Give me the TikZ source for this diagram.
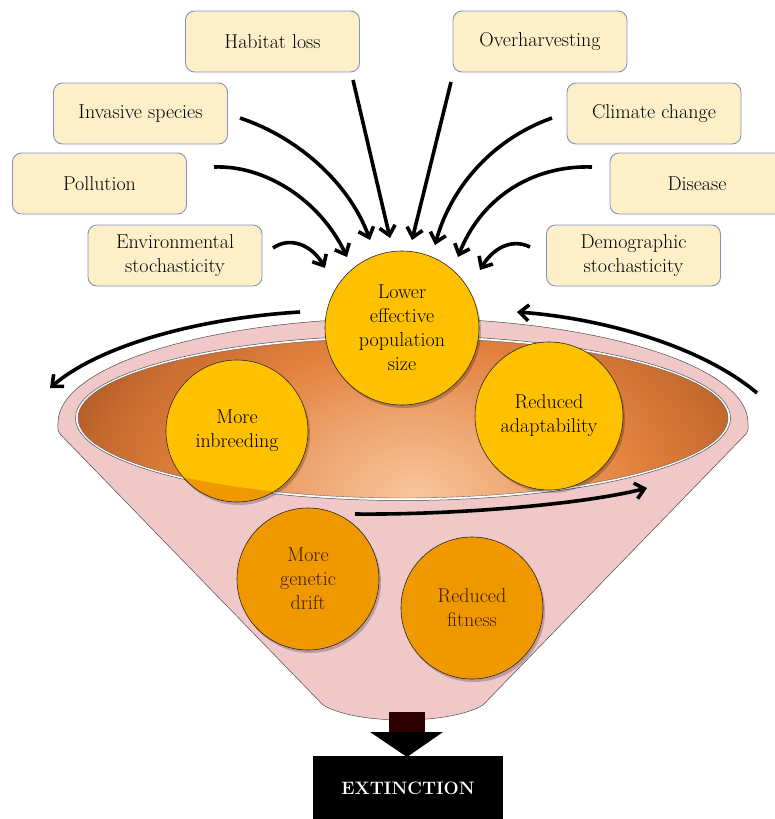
\documentclass[tikz,border=0pt]{standalone}
\usetikzlibrary{arrows.meta}
\definecolor{boxfill}{HTML}{FDF0C9}
\definecolor{boxline}{HTML}{8193BC}
\definecolor{cyellow}{HTML}{FFC000}
\definecolor{corange}{HTML}{F09800}
\definecolor{pinkf}{HTML}{F1C8C8}
\definecolor{peach}{HTML}{F8C59C}
\definecolor{orng}{HTML}{E3823F}
\definecolor{brwn}{HTML}{9E4C1A}
\definecolor{darktxt}{HTML}{3A1C00}
\definecolor{stemc}{HTML}{2E0000}
\pgfdeclareradialshading{bowl}{\pgfpoint{0bp}{0bp}}{color(0bp)=(peach); color(8bp)=(peach!50!orng); color(15bp)=(orng); color(22bp)=(orng!55!brwn); color(28bp)=(brwn); color(50bp)=(brwn)}
\newcommand\mainfs{\fontsize{20}{23.5}\selectfont}
\newcommand\circfs{\fontsize{20}{24}\selectfont}
\tikzset{
  cause/.style={draw=boxline, fill=boxfill, line width=0.9pt, rounded corners=9pt,
    minimum width=174pt, minimum height=61pt, align=center, font=\mainfs, inner sep=2pt},
  ring/.style={circle, draw=black!85, line width=0.6pt, inner sep=0pt, align=center, font=\circfs},
  arr/.style={line width=3.6pt, -{Straight Barb[length=9pt, width=16pt]}},
  shad/.style={fill=black, opacity=0.22},
}
\begin{document}
\begin{tikzpicture}[x=1pt, y=-1pt]
\useasboundingbox (0,0) rectangle (775,819);

% cause boxes
\node[cause] (hab) at (272.5,41.5) {Habitat loss};
\node[cause] (ovh) at (540,41.5) {Overharvesting};
\node[cause] (inv) at (140.5,113.5) {Invasive species};
\node[cause] (cli) at (654,113.5) {Climate change};
\node[cause] (pol) at (99.5,183.5) {Pollution};
\node[cause] (dis) at (697,183.5) {Disease};
\node[cause] (env) at (175,255.5) {Environmental\\stochasticity};
\node[cause] (dem) at (633.5,255.5) {Demographic\\stochasticity};

% funnel body
\draw[fill=pinkf, draw=black!70, line width=0.5pt]
  (323,705) -- (60,434) .. controls (57,430) and (58,426) .. (58,423)
  arc[start angle=180, end angle=360, x radius=345, y radius=105]
  .. controls (748,426) and (749,430) .. (746,434) -- (483,705)
  .. controls (450,725) and (356,725) .. (323,705) -- cycle;

% inner bowl
\draw[black!70, line width=0.5pt, fill=white] (403,418) ellipse[x radius=327.5, y radius=82.5];
\begin{scope}
  \clip (403,418) ellipse[x radius=325, y radius=80];
  \shade[shading=bowl] (45,245) rectangle (785,745);
\end{scope}
\draw[black!60, line width=0.4pt] (403,418) ellipse[x radius=325, y radius=80];

% circles
\fill[shad] (239,434) circle[radius=71pt];
\fill[corange] (237,431) circle[radius=71pt];
\begin{scope}
  \clip (403,418) ellipse[x radius=325, y radius=80];
  \fill[cyellow] (237,431) circle[radius=71pt];
\end{scope}
\node[ring, minimum size=142pt] (inb) at (237,431) {More\\inbreeding};

\fill[shad] (551,419) circle[radius=74pt];
\node[ring, fill=cyellow, minimum size=148pt] (ada) at (549,416) {Reduced\\adaptability};

\fill[shad] (310,582) circle[radius=71pt];
\node[ring, fill=corange, text=darktxt, minimum size=142pt] (dri) at (308,579) {More\\genetic\\drift};

\fill[shad] (474,611) circle[radius=71pt];
\node[ring, fill=corange, text=darktxt, minimum size=142pt] (fit) at (472,608) {Reduced\\fitness};

\fill[shad] (404,331) circle[radius=77pt];
\node[ring, fill=cyellow, minimum size=154pt] (ne) at (402,328) {Lower\\effective\\population\\size};

% cycle arrows around the rim
\coordinate (c1s) at (300,312); \coordinate (c1e) at (50,388);
\coordinate (c2s) at (757,393); \coordinate (c2e) at (517,312);
\coordinate (c3s) at (355,514); \coordinate (c3e) at (647,488);
\draw[arr] (c1s) .. controls (200,318) and (100,345) .. (c1e);
\draw[arr] (c2s) .. controls (700,345) and (600,318) .. (c2e);
\draw[arr] (c3s) .. controls (450,515) and (580,505) .. (c3e);

% arrows from causes
\coordinate (hab1) at (353,80);  \coordinate (hab2) at (390,238);
\coordinate (ovh1) at (451,82);  \coordinate (ovh2) at (412,240);
\coordinate (inv1) at (240,118); \coordinate (inv2) at (370,240);
\coordinate (pol1) at (214,167); \coordinate (pol2) at (347,257);
\coordinate (env1) at (273,248); \coordinate (env2) at (325,268);
\coordinate (cli1) at (552,118); \coordinate (cli2) at (435,245);
\coordinate (dis1) at (592,167); \coordinate (dis2) at (458,257);
\coordinate (dem1) at (530,247); \coordinate (dem2) at (480,270);
\draw[arr] (hab1) -- (hab2);
\draw[arr] (ovh1) -- (ovh2);
\draw[arr] (inv1) .. controls (300,138) and (350,185) .. (inv2);
\draw[arr] (pol1) .. controls (265,165) and (320,200) .. (pol2);
\draw[arr] (env1) .. controls (290,236) and (312,245) .. (env2);
\draw[arr] (cli1) .. controls (490,140) and (450,190) .. (cli2);
\draw[arr] (dis1) .. controls (530,165) and (480,200) .. (dis2);
\draw[arr] (dem1) .. controls (512,238) and (493,248) .. (dem2);

% extinction
\node[fill=black, text=white, font=\fontsize{18}{20}\selectfont\bfseries,
  minimum width=190pt, inner xsep=0pt, inner ysep=0pt, text height=38pt, text depth=36pt,
  anchor=north] (ext) at (408,756) {EXTINCTION};
\fill[stemc] (389,712) rectangle (425,734);
\fill[black] (370,732) -- (443,732) -- (407,757) -- cycle;
\end{tikzpicture}
\end{document}
